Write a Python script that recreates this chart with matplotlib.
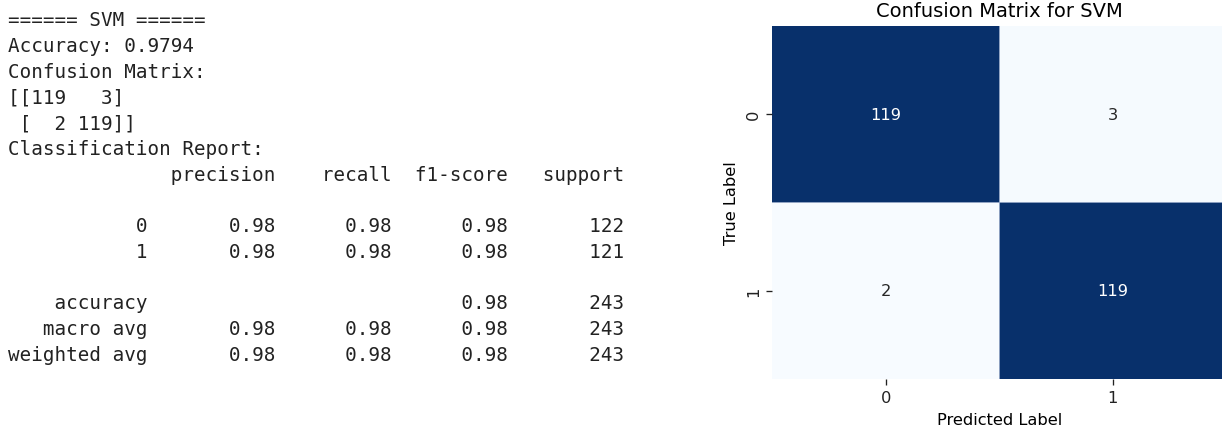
import numpy as np
import matplotlib
matplotlib.use("Agg")
import matplotlib.pyplot as plt
import seaborn as sns

# Evaluation results for the SVM classifier
model_name = "SVM"
accuracy = 0.9794
class_labels = ["0", "1"]
conf_matrix = [[119, 3],
               [2, 119]]
precision = [0.98, 0.98]
recall = [0.98, 0.98]
f1_score = [0.98, 0.98]
support = [122, 121]
avg_names = ["accuracy", "macro avg", "weighted avg"]
avg_precision = [None, 0.98, 0.98]
avg_recall = [None, 0.98, 0.98]
avg_f1 = [0.98, 0.98, 0.98]
avg_support = [243, 243, 243]
report_headers = ["precision", "recall", "f1-score", "support"]

W, H = 1222, 431
fig = plt.figure(figsize=(W / 100, H / 100), dpi=100)
fig.patch.set_facecolor("white")

# ---- console-style text report on the left ----
width = max(len(n) for n in class_labels + avg_names)


def fmt_val(v):
    return " " * 10 if v is None else " {:>9.2f}".format(v)


lines = [
    "====== {} ======".format(model_name),
    "Accuracy: {:.4f}".format(accuracy),
    "Confusion Matrix:",
]
cm = np.array(conf_matrix)
cm_str = np.array2string(cm)
lines += cm_str.split("\n")
lines.append("Classification Report:")
lines.append("{:>{w}s} ".format("", w=width) + "".join(" {:>9}".format(h) for h in report_headers))
lines.append("")
for lab, p, r, f, s in zip(class_labels, precision, recall, f1_score, support):
    lines.append("{:>{w}s} ".format(lab, w=width) + fmt_val(p) + fmt_val(r) + fmt_val(f) + " {:>9}".format(s))
lines.append("")
for name, p, r, f, s in zip(avg_names, avg_precision, avg_recall, avg_f1, avg_support):
    lines.append("{:>{w}s} ".format(name, w=width) + fmt_val(p) + fmt_val(r) + fmt_val(f) + " {:>9}".format(s))

x0 = 8
base0 = 26.5
step = 25.7
for i, line in enumerate(lines):
    if not line:
        continue
    y = base0 + step * i
    fig.text(x0 / W, 1 - y / H, line, family="DejaVu Sans Mono", fontsize=13.85,
             color="#222222", ha="left", va="baseline")

# ---- confusion matrix heatmap on the right ----
fs = 11.7
ax_left, ax_right = 772.3, 1226.3
ax_top, ax_bottom = 26.7, 380.0
ax = fig.add_axes([ax_left / W, 1 - ax_bottom / H,
                   (ax_right - ax_left) / W, (ax_bottom - ax_top) / H])
sns.heatmap(cm, annot=True, fmt="d", cmap="Blues", cbar=False, ax=ax,
            xticklabels=class_labels, yticklabels=class_labels,
            annot_kws={"fontsize": fs})
# faint seams between the cells
ax.axhline(1, color="#8fa2c2", lw=0.7)
ax.axvline(1, color="#8fa2c2", lw=0.7)
ax.set_title("Confusion Matrix for {}".format(model_name), fontsize=14, pad=7)
ax.set_xlabel("Predicted Label", fontsize=fs, labelpad=5)
ax.set_ylabel("True Label", fontsize=fs, labelpad=5)
ax.tick_params(labelsize=fs, length=4.1, width=0.95, pad=4, colors="#222222")

fig.savefig("out.png", dpi=100)
